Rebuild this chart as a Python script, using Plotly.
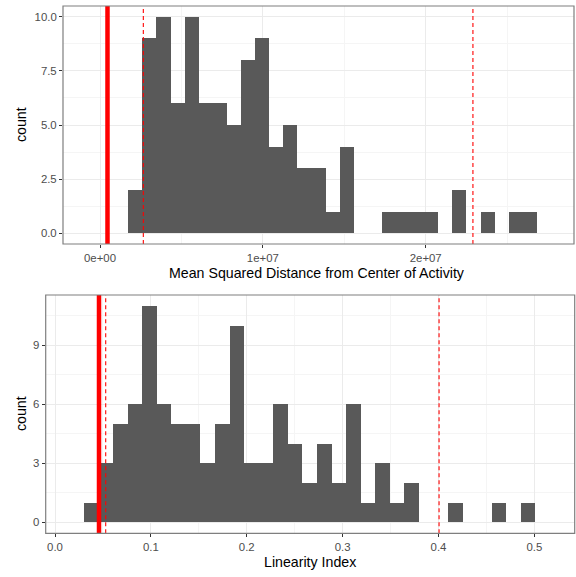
import plotly.graph_objects as go

# ---------------- data ----------------
# Top panel: Mean Squared Distance histogram
msd_bin_start = 1.738e6
msd_bin_width = 0.8652e6
msd_counts = [2, 9, 10, 6, 10, 6, 6, 5, 8, 9, 4, 5, 3, 3, 1, 4, 0, 0,
              1, 1, 1, 1, 0, 2, 0, 1, 0, 1, 1]
msd_solid_line = 0.46e6
msd_dashed_lines = [2.66e6, 2.29e7]
msd_xtick_vals = [0, 1e7, 2e7]
msd_xtick_text = ["0e+00", "1e+07", "2e+07"]
msd_ytick_vals = [0, 2.5, 5, 7.5, 10]
msd_ytick_text = ["0.0", "2.5", "5.0", "7.5", "10.0"]

# Bottom panel: Linearity Index histogram
li_bin_start = 0.0299
li_bin_width = 0.01519
li_counts = [1, 3, 5, 6, 11, 6, 5, 5, 3, 5, 10, 3, 3, 6, 4, 2, 4, 2, 6, 1,
             3, 1, 2, 0, 0, 1, 0, 0, 1, 0, 1]
li_solid_line = 0.0459
li_dashed_lines = [0.0529, 0.4006]
li_xtick_vals = [0, 0.1, 0.2, 0.3, 0.4, 0.5]
li_xtick_text = ["0.0", "0.1", "0.2", "0.3", "0.4", "0.5"]
li_ytick_vals = [0, 3, 6, 9]
li_ytick_text = ["0", "3", "6", "9"]

# ---------------- figure ----------------
W, H = 576, 577
FONT = "Liberation Sans, Arial, sans-serif"
BAR = "#595959"
GRID = "#ebebeb"
MINOR = "#f5f5f5"
BORDER = "#7f7f7f"
TICKC = "#4d4d4d"

fig = go.Figure()

msd_x = [msd_bin_start + msd_bin_width * (i + 0.5) for i in range(len(msd_counts))]
li_x = [li_bin_start + li_bin_width * (i + 0.5) for i in range(len(li_counts))]

fig.add_trace(go.Bar(x=msd_x, y=msd_counts, width=msd_bin_width,
                     marker=dict(color=BAR, line=dict(width=0)),
                     xaxis="x", yaxis="y", showlegend=False))
fig.add_trace(go.Bar(x=li_x, y=li_counts, width=li_bin_width,
                     marker=dict(color=BAR, line=dict(width=0)),
                     xaxis="x2", yaxis="y2", showlegend=False))

shapes = []
def vline(xv, xref, yref, width, dash):
    shapes.append(dict(type="line", xref=xref, yref=yref + " domain",
                       x0=xv, x1=xv, y0=0, y1=1,
                       line=dict(color="#ff0000", width=width, dash=dash),
                       layer="above"))

vline(msd_solid_line, "x", "y", 4.5, "solid")
for v in msd_dashed_lines:
    vline(v, "x", "y", 1.1, "4px,3px")
vline(li_solid_line, "x2", "y2", 4.5, "solid")
for v in li_dashed_lines:
    vline(v, "x2", "y2", 1.1, "4px,3px")

# panel borders
for xr, yr in (("x", "y"), ("x2", "y2")):
    shapes.append(dict(type="rect", xref=xr + " domain", yref=yr + " domain",
                       x0=0, x1=1, y0=0, y1=1,
                       line=dict(color=BORDER, width=1.2), layer="above"))

def px_x(a, b):
    return [a / W, b / W]

def px_y(top, bottom):
    return [(H - bottom) / H, (H - top) / H]

axis_common = dict(
    showgrid=True, gridcolor=GRID, gridwidth=1.1, zeroline=False,
    showline=False, ticks="outside", ticklen=3, tickcolor="#333333",
    tickwidth=1, tickfont=dict(family=FONT, size=11.4, color=TICKC),
    automargin=False,
)

TFONT = dict(family=FONT, size=14.2, color="#000000")
annotations = [
    dict(text="Mean Squared Distance from Center of Activity", xref="paper", yref="paper",
         x=317 / W, y=(H - 273) / H, showarrow=False, font=TFONT,
         xanchor="center", yanchor="middle"),
    dict(text="Linearity Index", xref="paper", yref="paper",
         x=310 / W, y=(H - 562) / H, showarrow=False, font=TFONT,
         xanchor="center", yanchor="middle"),
    dict(text="count", xref="paper", yref="paper", textangle=-90,
         x=21 / W, y=(H - 125) / H, showarrow=False, font=TFONT,
         xanchor="center", yanchor="middle"),
    dict(text="count", xref="paper", yref="paper", textangle=-90,
         x=21 / W, y=(H - 414) / H, showarrow=False, font=TFONT,
         xanchor="center", yanchor="middle"),
]

fig.update_layout(
    width=W, height=H,
    margin=dict(l=0, r=0, t=0, b=0),
    paper_bgcolor="white", plot_bgcolor="white",
    bargap=0, shapes=shapes, annotations=annotations,
    font=dict(family=FONT),
    xaxis=dict(domain=px_x(63, 574), range=[-2.272e6, 2.9106e7],
               tickmode="array", tickvals=msd_xtick_vals, ticktext=msd_xtick_text,
               minor=dict(dtick=5e6, tick0=0, showgrid=True, gridcolor=MINOR, ticks=""),
               anchor="y", **axis_common),
    yaxis=dict(domain=px_y(6, 244), range=[-0.5, 10.5],
               tickmode="array", tickvals=msd_ytick_vals, ticktext=msd_ytick_text,
               minor=dict(dtick=1.25, tick0=0, showgrid=True, gridcolor=MINOR, ticks=""),
               anchor="x", **axis_common),
    xaxis2=dict(domain=px_x(45.7, 574.7), range=[-0.0097, 0.5421],
                tickmode="array", tickvals=li_xtick_vals, ticktext=li_xtick_text,
                minor=dict(dtick=0.05, tick0=0, showgrid=True, gridcolor=MINOR, ticks=""),
                anchor="y2", **axis_common),
    yaxis2=dict(domain=px_y(295, 533.3), range=[-0.55, 11.55],
                tickmode="array", tickvals=li_ytick_vals, ticktext=li_ytick_text,
                minor=dict(dtick=1.5, tick0=0, showgrid=True, gridcolor=MINOR, ticks=""),
                anchor="x2", **axis_common),
)

fig.write_html(
    "out.html",
    config={"displayModeBar": False},
    post_script="document.body.style.margin='0px';document.body.style.overflow='hidden';",
)
